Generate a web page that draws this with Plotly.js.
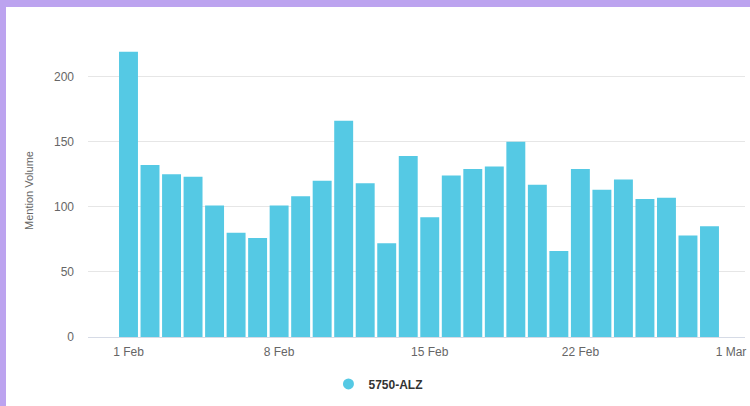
<!DOCTYPE html>
<html>
<head>
<meta charset="utf-8">
<script src="https://cdn.plot.ly/plotly-3.0.1.min.js"></script>
<style>
html,body{margin:0;padding:0;width:750px;height:406px;overflow:hidden;background:#bca3ef;}
#chart{position:absolute;left:6px;top:7px;width:744px;height:399px;background:#ffffff;}
</style>
</head>
<body>
<div id="chart"></div>
<script>
// Categories (days)
const dates = [
  '2023-02-01','2023-02-02','2023-02-03','2023-02-04','2023-02-05','2023-02-06','2023-02-07',
  '2023-02-08','2023-02-09','2023-02-10','2023-02-11','2023-02-12','2023-02-13','2023-02-14',
  '2023-02-15','2023-02-16','2023-02-17','2023-02-18','2023-02-19','2023-02-20','2023-02-21',
  '2023-02-22','2023-02-23','2023-02-24','2023-02-25','2023-02-26','2023-02-27','2023-02-28'
];
// Series values
const seriesName = '5750-ALZ';
const mentionVolume = [
  219,132,125,123,101,80,76,
  101,108,120,166,118,72,139,
  92,124,129,131,150,117,66,
  129,113,121,106,107,78,85
];
// Tick labels
const yTicks = [0,50,100,150,200];
const xTickVals = ['2023-02-01','2023-02-08','2023-02-15','2023-02-22','2023-03-01'];
const xTickText = ['1 Feb','8 Feb','15 Feb','22 Feb','1 Mar'];

const barColor = '#55c9e4';
const font = 'Liberation Sans, Arial, Helvetica, sans-serif';

const traces = [
  {
    type:'bar', x:dates, y:mentionVolume, name:seriesName,
    marker:{color:barColor}, showlegend:false, hoverinfo:'skip'
  },
  {
    type:'scatter', mode:'markers', x:[null], y:[null], name:seriesName,
    marker:{color:barColor, size:11, symbol:'circle'}, showlegend:true, hoverinfo:'skip'
  }
];

const layout = {
  width:744, height:399,
  margin:{l:82, r:5, t:37, b:69, pad:0},
  paper_bgcolor:'#ffffff', plot_bgcolor:'#ffffff',
  font:{family:font, size:12, color:'#666666'},
  bargap:0.12,
  showlegend:true,
  hovermode:false,
  xaxis:{
    type:'date',
    range:['2023-01-30 02:50','2023-03-01 15:36'],
    tickmode:'array', tickvals:xTickVals, ticktext:xTickText,
    showgrid:false, zeroline:false, showline:false, ticks:'',
    ticklabelstandoff:6,
    tickfont:{family:font, size:12, color:'#666666'},
    fixedrange:true
  },
  yaxis:{
    range:[0,225],
    tickmode:'array', tickvals:yTicks,
    showgrid:true, gridcolor:'#e6e6e6', gridwidth:1,
    zeroline:true, zerolinecolor:'#d6dbe6', zerolinewidth:1,
    showline:false, ticks:'',
    ticklabelstandoff:13,
    tickfont:{family:font, size:12, color:'#666666'},
    title:{text:'Mention Volume', font:{family:font, size:11, color:'#666666'}, standoff:18},
    fixedrange:true
  },
  legend:{
    orientation:'h', xref:'paper', yref:'paper',
    x:0.366, xanchor:'left', y:-0.16, yanchor:'middle',
    font:{family:font, size:12, color:'#333333', weight:'bold'},
    bgcolor:'rgba(0,0,0,0)'
  }
};

Plotly.newPlot('chart', traces, layout, {displayModeBar:false, staticPlot:true});
</script>
</body>
</html>
